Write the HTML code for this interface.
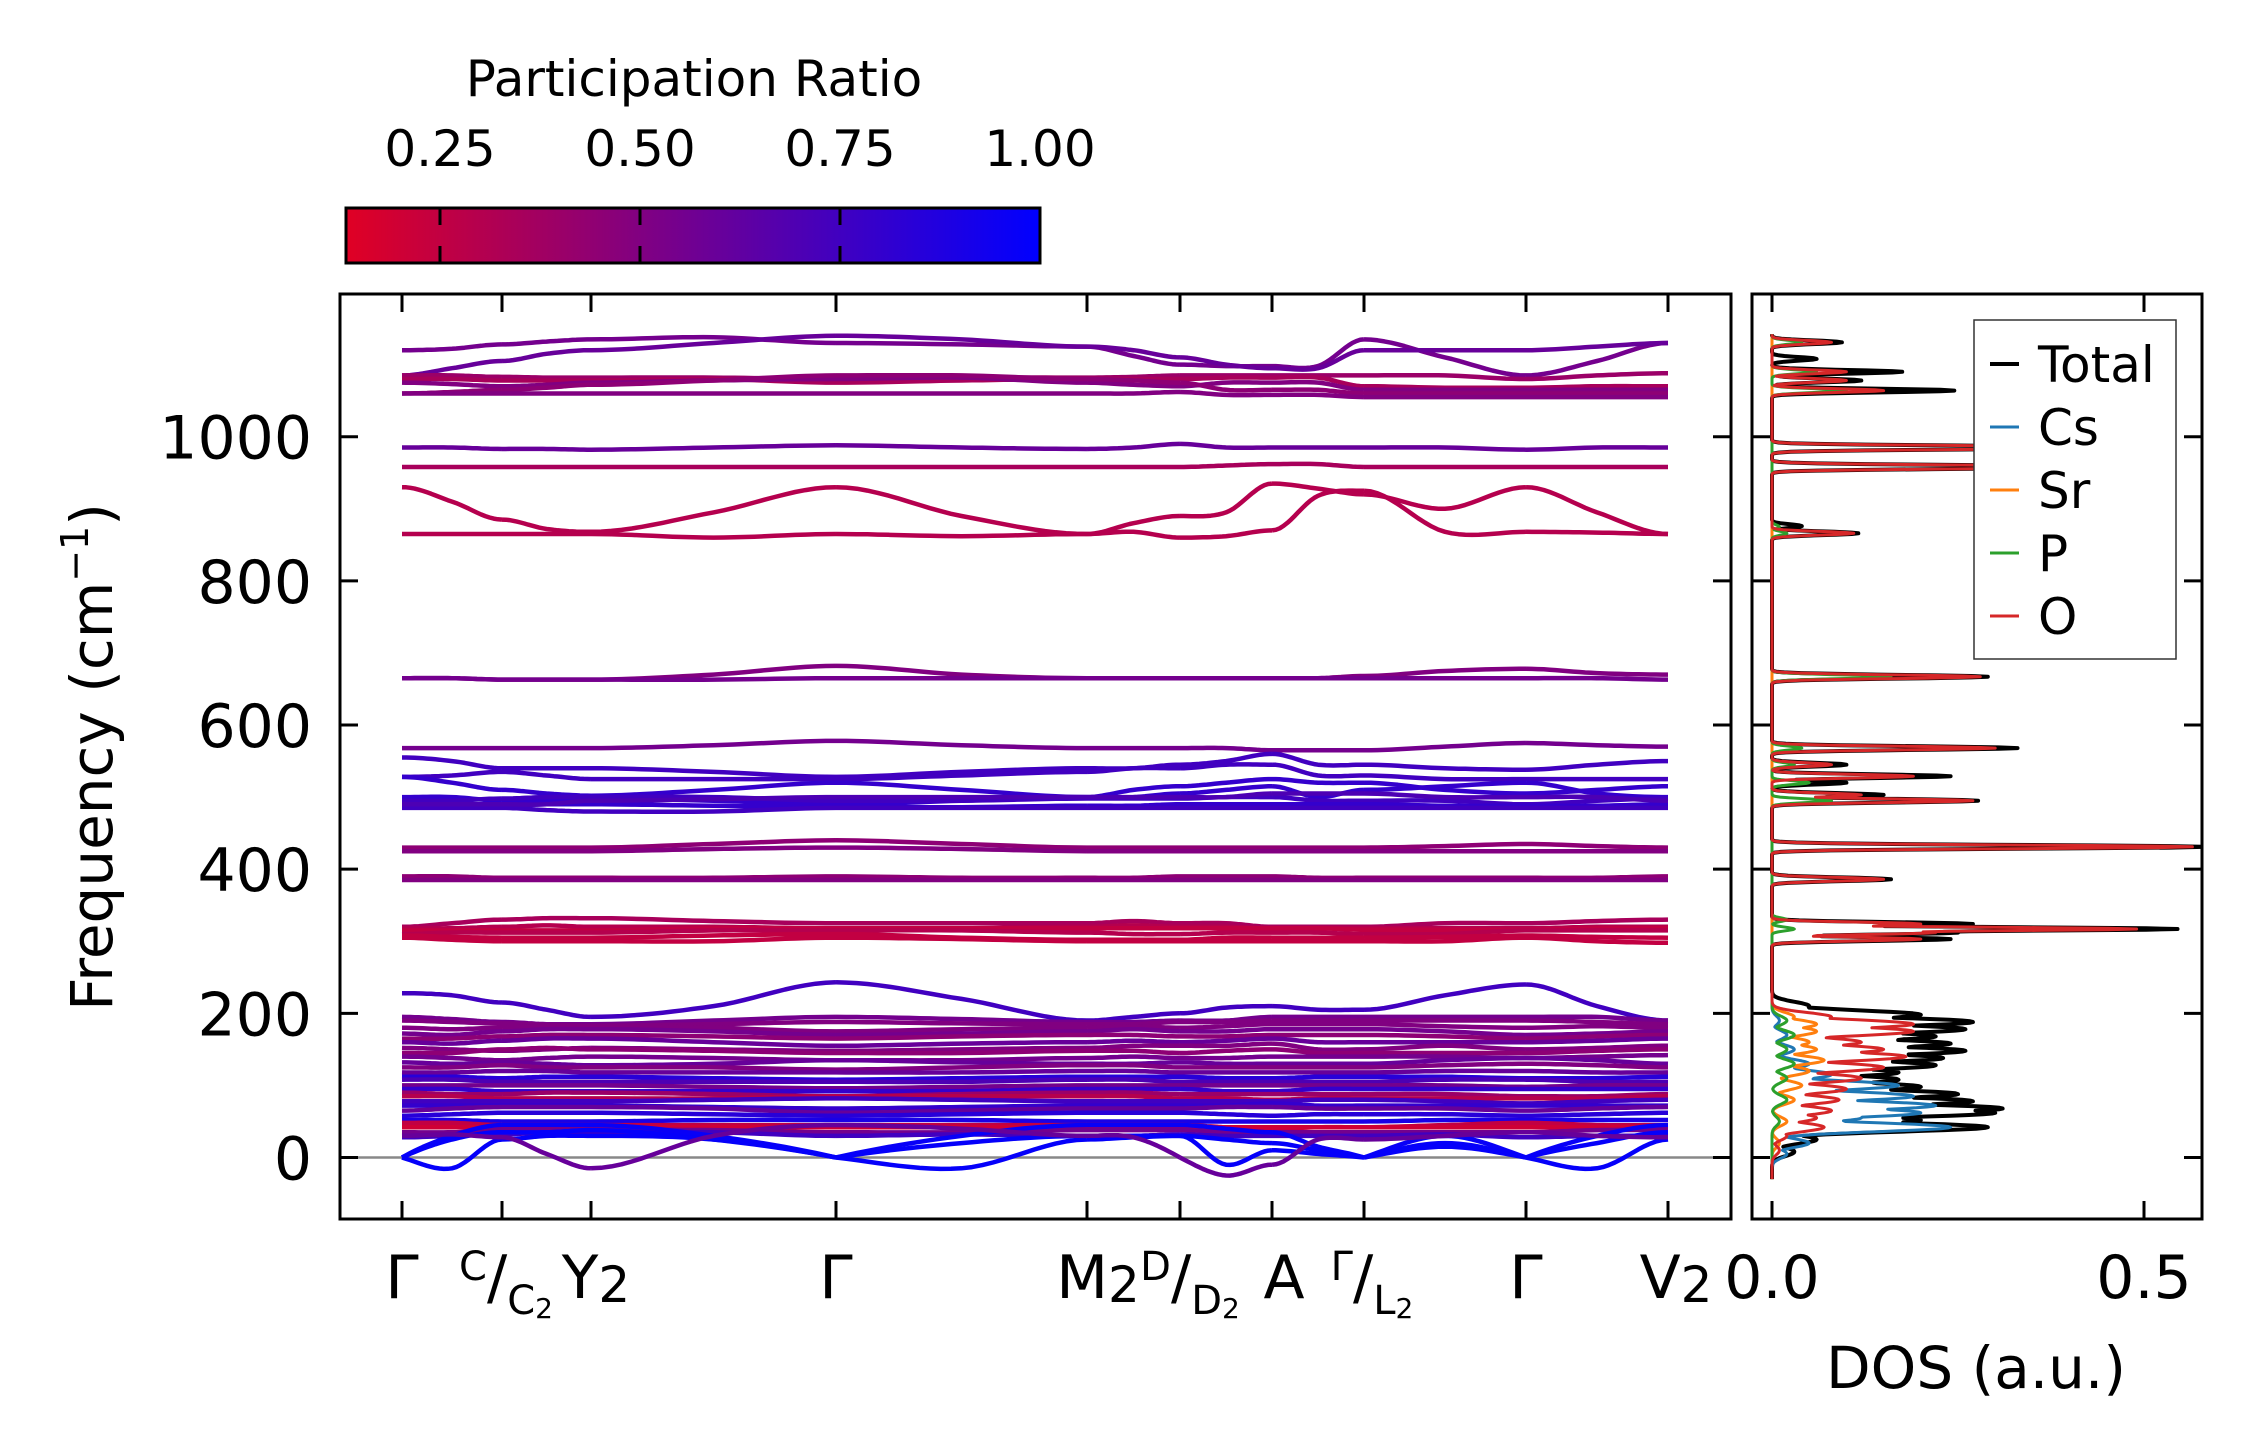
<!DOCTYPE html>
<html><head><meta charset="utf-8"><style>
html,body{margin:0;padding:0;background:#fff;}
svg{display:block;font-family:"DejaVu Sans","Liberation Sans",sans-serif;}
</style></head><body>
<svg id="fig" width="2259" height="1455" viewBox="0 0 2259 1455" xmlns="http://www.w3.org/2000/svg">
<defs>
<linearGradient id="cmap" x1="0" x2="1" y1="0" y2="0">
<stop offset="0" stop-color="rgb(224,0,36)"/>
<stop offset="0.5" stop-color="rgb(112,0,146)"/>
<stop offset="1" stop-color="rgb(0,0,255)"/>
</linearGradient>
<clipPath id="mainClip"><rect x="340" y="294" width="1391" height="925"/></clipPath>
<clipPath id="dosClip"><rect x="1752" y="294" width="450" height="925"/></clipPath>
</defs>
<g id="colorbar">
<text x="694" y="96" font-size="50" text-anchor="middle">Participation Ratio</text>
<rect x="346" y="208" width="694" height="55" fill="url(#cmap)" stroke="#000" stroke-width="3"/>
<g id="cbTicks"></g>
</g>
<g id="main">
<line x1="340" x2="1731" y1="1157.5" y2="1157.5" stroke="#888" stroke-width="2.5"/>
<g id="bands" clip-path="url(#mainClip)"></g>
<rect x="340" y="294" width="1391" height="925" fill="none" stroke="#000" stroke-width="3"/>
<g id="mainTicks"></g>
<text transform="translate(112,757) rotate(-90)" font-size="58" text-anchor="middle">Frequency (cm<tspan font-size="38" dy="-24">−1</tspan><tspan dy="24">)</tspan></text>
<g font-size="60">
<text x="402" y="1298" text-anchor="middle">Γ</text>
<text x="506" y="1298" text-anchor="middle"><tspan font-size="40" dy="-18">C</tspan><tspan dy="18">/</tspan><tspan font-size="40" dy="16">C</tspan><tspan font-size="28" dy="4">2</tspan></text>
<text x="596" y="1298" text-anchor="middle">Y<tspan font-size="50" dy="4">2</tspan></text>
<text x="836" y="1298" text-anchor="middle">Γ</text>
<text x="1098" y="1298" text-anchor="middle">M<tspan font-size="50" dy="4">2</tspan></text>
<text x="1190" y="1298" text-anchor="middle"><tspan font-size="40" dy="-18">D</tspan><tspan dy="18">/</tspan><tspan font-size="40" dy="16">D</tspan><tspan font-size="28" dy="4">2</tspan></text>
<text x="1284" y="1298" text-anchor="middle">A</text>
<text x="1372" y="1298" text-anchor="middle"><tspan font-size="40" dy="-18">Γ</tspan><tspan dy="18">/</tspan><tspan font-size="40" dy="16">L</tspan><tspan font-size="28" dy="4">2</tspan></text>
<text x="1526" y="1298" text-anchor="middle">Γ</text>
<text x="1676" y="1298" text-anchor="middle">V<tspan font-size="50" dy="4">2</tspan></text>
</g>
</g>
<g id="dos">
<g id="dosLines" clip-path="url(#dosClip)"></g>
<rect x="1752" y="294" width="450" height="925" fill="none" stroke="#000" stroke-width="3"/>
<g id="dosTicks"></g>
<text x="1976" y="1388" font-size="58" text-anchor="middle">DOS (a.u.)</text>
<g>
<rect x="1974" y="320" width="202" height="339" fill="#fff" stroke="#333" stroke-width="1.5"/>
<g id="legendEntries" font-size="50"></g>
</g>
</g>
</svg>
<script>
const kLabels = ["Γ","C|C2","Y2","Γ","M2","D|D2","A","Γ|L2","Γ","V2"];
const kTicks = [0,100,189,434,685,778,870,962,1124,1266];
const bandFreqs = [
[1120,1122,1128,1132,1135,1138,1130,1128,1125,1112,1100,1098,1098,1098,1135,1110,1085,1105,1130],
[1085,1095,1105,1115,1120,1130,1140,1135,1125,1120,1110,1100,1095,1095,1120,1120,1120,1125,1130],
[1085,1085,1083,1082,1082,1082,1080,1082,1082,1083,1085,1085,1085,1085,1085,1085,1080,1085,1088],
[1080,1080,1078,1078,1078,1080,1075,1078,1080,1080,1080,1082,1082,1082,1070,1068,1068,1070,1070],
[1075,1073,1070,1072,1075,1078,1080,1082,1075,1072,1070,1075,1075,1075,1065,1065,1065,1065,1065],
[1060,1062,1065,1068,1072,1078,1085,1085,1080,1078,1075,1065,1065,1065,1060,1060,1060,1060,1060],
[1060,1060,1060,1060,1060,1060,1060,1060,1060,1060,1062,1058,1058,1058,1055,1055,1055,1055,1055],
[985,985,983,983,982,985,988,985,983,985,990,985,985,985,985,985,982,985,985],
[958,958,958,958,958,958,958,958,958,958,958,960,962,962,958,958,958,958,958],
[930,910,885,872,868,895,930,890,865,880,890,895,935,928,920,900,930,895,865],
[865,865,865,865,865,860,865,862,865,868,860,862,870,918,925,868,868,867,865],
[665,665,663,663,663,670,682,670,665,665,665,665,665,665,668,675,678,672,670],
[665,665,663,663,663,663,665,665,665,665,665,665,665,665,665,665,665,665,663],
[568,568,568,568,568,572,578,572,568,568,568,568,565,565,565,570,575,572,570],
[555,550,540,540,540,535,528,535,540,540,545,550,560,545,545,540,538,545,550],
[528,530,535,530,525,525,525,530,535,540,540,545,545,530,530,525,525,525,525],
[528,520,510,505,502,510,520,510,500,510,515,520,525,520,520,510,505,510,515],
[500,500,495,495,498,495,490,495,500,500,505,510,515,500,510,515,520,505,500],
[495,495,498,500,500,500,495,495,498,498,498,500,500,495,495,495,490,495,498],
[488,488,488,490,490,488,486,486,488,488,490,490,490,490,490,488,488,488,490],
[485,485,485,482,480,480,485,485,485,485,485,485,485,485,485,485,485,485,485],
[490,490,490,490,495,497,500,500,500,500,500,500,505,505,505,500,500,500,495],
[430,430,430,430,430,435,440,435,430,430,430,430,430,430,430,432,435,432,430],
[425,425,425,425,425,428,430,428,425,425,425,425,425,425,425,425,425,425,425],
[390,390,388,388,388,388,390,388,388,388,390,390,390,388,388,388,388,388,390],
[385,385,385,385,385,385,385,385,385,385,385,385,385,385,385,385,385,385,385],
[320,325,330,332,332,328,325,325,325,328,325,325,320,320,320,325,325,328,330],
[318,318,320,322,320,320,318,318,320,322,320,320,318,318,318,318,318,320,320],
[315,315,315,315,315,318,318,318,318,318,318,318,318,318,316,316,316,318,318],
[310,312,312,312,312,315,315,315,312,310,310,312,312,312,310,310,315,315,315],
[308,306,305,305,305,308,310,305,302,302,302,305,305,305,305,306,308,306,305],
[305,302,300,300,300,300,305,303,300,300,300,300,300,300,300,300,305,300,298],
[228,225,215,205,195,210,243,220,190,195,200,208,210,205,205,225,240,210,190],
[195,192,188,185,185,190,195,192,188,188,190,190,195,195,195,195,195,195,190],
[190,188,186,184,183,185,188,186,185,185,188,188,190,190,190,190,190,188,185],
[180,178,180,182,182,180,175,178,180,182,180,182,185,185,185,182,180,182,180],
[172,170,175,178,178,175,170,172,175,178,175,175,178,178,178,175,170,172,175],
[165,165,168,170,170,168,165,168,170,170,168,168,170,170,170,168,165,168,170],
[160,158,162,165,165,160,155,158,160,162,160,162,165,160,160,160,160,162,165],
[152,150,148,150,152,150,148,150,152,155,155,155,158,150,150,155,150,152,155],
[145,145,150,152,150,148,145,145,148,148,145,148,150,145,145,145,145,148,150],
[140,138,135,138,140,138,135,135,138,140,138,138,140,140,140,140,138,140,142],
[132,130,132,130,128,130,135,132,130,130,132,130,130,130,130,135,138,135,130],
[125,125,128,125,125,125,122,125,128,128,125,125,125,125,125,128,130,128,125],
[118,118,120,120,118,118,118,118,120,120,118,118,118,118,118,120,120,118,118],
[112,112,110,112,112,110,108,110,112,112,112,110,110,112,112,112,110,110,112],
[108,108,105,105,105,105,105,105,108,108,105,105,105,105,105,108,108,105,105],
[100,100,100,100,100,98,96,98,100,100,100,100,100,100,100,100,98,100,100],
[95,95,92,92,92,92,92,92,95,95,95,92,92,95,95,95,95,95,95],
[90,88,88,90,90,88,85,88,90,90,88,88,88,88,88,88,85,85,88],
[85,85,82,82,82,82,85,85,85,85,82,82,80,82,82,82,82,82,85],
[78,78,78,78,78,80,82,80,78,78,78,78,78,80,80,78,75,78,80],
[72,72,72,72,72,70,68,70,72,72,72,72,75,72,72,72,72,72,72],
[65,68,70,70,70,68,62,65,68,68,68,70,70,68,68,68,65,68,70],
[58,60,62,62,62,60,58,60,62,62,62,60,58,60,60,60,58,60,62],
[52,52,50,50,50,52,52,52,50,50,50,50,50,50,50,52,52,52,52],
[48,48,45,45,45,45,45,45,45,45,45,42,40,42,42,45,48,45,45],
[42,42,42,42,42,42,42,42,42,42,42,42,42,42,42,42,42,42,42],
[35,35,38,38,38,38,35,35,38,38,38,35,35,35,35,35,35,38,38],
[28,30,32,35,35,35,30,32,30,30,32,30,30,30,30,32,28,30,30],
[0,30,45,45,45,30,0,30,45,45,45,40,35,15,0,30,0,30,45],
[0,25,35,35,38,25,0,20,30,30,30,25,20,10,0,20,0,20,35],
[0,-15,25,30,30,25,0,-15,25,28,30,-10,10,5,0,15,0,-15,25],
[30,32,28,5,-15,30,45,40,30,28,0,-25,-10,25,25,30,35,30,28]
];
const bandPR = [0.55,0.6,0.4,0.35,0.5,0.45,0.5,0.6,0.35,0.3,0.3,0.5,0.55,0.55,0.75,0.75,0.8,0.8,0.75,0.8,0.75,0.7,0.45,0.5,0.45,0.5,0.35,0.3,0.25,0.3,0.25,0.25,0.75,0.55,0.5,0.5,0.55,0.45,0.6,0.5,0.45,0.55,0.6,0.5,0.6,0.85,0.7,0.55,0.8,0.4,0.3,0.75,0.8,0.6,0.85,0.9,0.25,0.2,0.55,0.75,0.97,0.98,0.98,0.6];
const cbTickValues = [0.25,0.5,0.75,1.0];
const cbTickLabels = ["0.25","0.50","0.75","1.00"];
const yTickValues = [0,200,400,600,800,1000];
const yTickLabels = ["0","200","400","600","800","1000"];

const dosSpecies = ["Total","Cs","Sr","P","O"];
const dosColors = ["#000000","#1f77b4","#ff7f0e","#2ca02c","#d62728"];
const totalCenters = [8,25,42,52,62,68,78,88,98,108,118,128,138,148,158,168,178,188,198,210,303,312,317,324,386,431,495,503,520,529,545,568,667,866,876,958,985,1064,1078,1090,1108,1131];
const totalHeights = [0.03,0.06,0.29,0.2,0.3,0.31,0.27,0.25,0.2,0.17,0.17,0.22,0.23,0.26,0.24,0.22,0.26,0.27,0.2,0.05,0.24,0.25,0.545,0.27,0.16,0.58,0.277,0.15,0.1,0.24,0.1,0.33,0.29,0.116,0.04,0.45,0.45,0.245,0.12,0.175,0.06,0.094];
const csCenters = [5,20,42,55,62,72,85,100,115,130,150,170,190];
const csHeights = [0.02,0.05,0.24,0.12,0.2,0.22,0.19,0.17,0.08,0.05,0.03,0.02,0.01];
const srCenters = [20,50,80,100,120,135,150,160,175,185,195];
const srHeights = [0.01,0.02,0.03,0.04,0.05,0.07,0.06,0.05,0.06,0.06,0.03];
const pCenters = [50,80,110,130,150,170,190,317,330,495,520,545,568,667,866,875,1064,1090,1131];
const pHeights = [0.01,0.02,0.02,0.03,0.02,0.03,0.02,0.03,0.02,0.08,0.05,0.03,0.04,0.16,0.02,0.01,0.1,0.06,0.04];
const oCenters = [10,30,42,55,65,80,95,110,125,140,150,160,175,185,195,303,312,317,324,386,431,495,503,529,545,568,667,866,958,985,1064,1078,1090,1131];
const oHeights = [0.01,0.02,0.07,0.06,0.08,0.09,0.1,0.12,0.15,0.18,0.15,0.12,0.19,0.19,0.08,0.2,0.22,0.49,0.2,0.15,0.565,0.27,0.12,0.19,0.08,0.3,0.28,0.11,0.45,0.45,0.15,0.1,0.1,0.08];
const dosTickValues = [0.0,0.5];
const dosTickLabels = ["0.0","0.5"];

const NS = "http://www.w3.org/2000/svg";
function mk(tag, attrs, parent){const e=document.createElementNS(NS,tag);for(const k in attrs)e.setAttribute(k,attrs[k]);parent.appendChild(e);return e;}
const yScale = f => 1157.5 - f*0.7208;
const kScale = k => 402 + k;
const prScale = v => 346 + (v-0.1325)/(1-0.1325)*694;
const dosX = v => 1772 + v*744;
function prColor(v){let t=(v-0.1325)/(1-0.1325);t=Math.max(0,Math.min(1,t));
  let r,b; if(t<0.5){const u=t/0.5;r=224+(112-224)*u;b=36+(146-36)*u;}else{const u=(t-0.5)/0.5;r=112*(1-u);b=146+(255-146)*u;}
  return `rgb(${Math.round(r)},0,${Math.round(b)})`;}

const cbT=document.getElementById('cbTicks');
cbTickValues.forEach((v,i)=>{const x=prScale(v);
  const t1=mk('line',{x1:x,x2:x,y1:209,y2:225,stroke:'#000','stroke-width':3},cbT);
  
  
  const t2=mk('line',{x1:x,x2:x,y1:246,y2:262,stroke:'#000','stroke-width':3},cbT);
  
  
  const tx=mk('text',{x:x,y:166,'font-size':50,'text-anchor':'middle'},cbT);tx.textContent=cbTickLabels[i];
  
  
});

const mt=document.getElementById('mainTicks');
yTickValues.forEach((v,i)=>{const y=yScale(v);
  const a=mk('line',{x1:340,x2:358,y1:y,y2:y,stroke:'#000','stroke-width':3},mt);
  
  
  const b=mk('line',{x1:1713,x2:1731,y1:y,y2:y,stroke:'#000','stroke-width':3},mt);
  
  
  const tx=mk('text',{x:312,y:y+22,'font-size':60,'text-anchor':'end'},mt);tx.textContent=yTickLabels[i];
  
  
  const c=mk('line',{x1:1752,x2:1770,y1:y,y2:y,stroke:'#000','stroke-width':3},mt);
  
  
  const d=mk('line',{x1:2184,x2:2202,y1:y,y2:y,stroke:'#000','stroke-width':3},mt);
  
  
});
kTicks.forEach((k,i)=>{const x=kScale(k);
  const a=mk('line',{x1:x,x2:x,y1:294,y2:312,stroke:'#000','stroke-width':3},mt);
  
  
  const b=mk('line',{x1:x,x2:x,y1:1201,y2:1219,stroke:'#000','stroke-width':3},mt);
  
  
});

const bg=document.getElementById('bands');
function hermite(p0,p1,m0,m1,dx,t){const t2=t*t,t3=t2*t;return (2*t3-3*t2+1)*p0+(t3-2*t2+t)*dx*m0+(-2*t3+3*t2)*p1+(t3-t2)*dx*m1;}
bandFreqs.forEach((arr,bi)=>{
  const col=prColor(bandPR[bi]);
  for(let s=0;s<kTicks.length-1;s++){
    const k0=kTicks[s],k2=kTicks[s+1],k1=(k0+k2)/2,h=(k2-k0)/2;
    const f0=arr[2*s],f1=arr[2*s+1],f2=arr[2*s+2];
    const mMid=(f2-f0)/(2*h);
    const ac0=(f0===0)?(f1-f0)/h*1.3:0, ac2=(f2===0)?(f2-f1)/h*1.3:0;
    let d='';
    for(let j=0;j<=24;j++){const t=j/24;let k,f;
      if(t<=0.5){const u=t*2;k=k0+u*h;f=hermite(f0,f1,ac0,mMid,h,u);}
      else{const u=(t-0.5)*2;k=k1+u*h;f=hermite(f1,f2,mMid,ac2,h,u);}
      d+=(j?'L':'M')+kScale(k).toFixed(1)+','+yScale(f).toFixed(1);}
    const p=mk('path',{d:d,fill:'none',stroke:col,'stroke-width':4.5,'stroke-linejoin':'round'},bg);
    
    
  }
});

const dl=document.getElementById('dosLines');
const speciesPeaks=[[totalCenters,totalHeights],[csCenters,csHeights],[srCenters,srHeights],[pCenters,pHeights],[oCenters,oHeights]];
[0,1,2,3,4].forEach(si=>{
  const cs=speciesPeaks[si][0],hs=speciesPeaks[si][1];
  let d='';
  for(let f=-30;f<=1142;f+=1){
    let v=0;
    for(let i=0;i<cs.length;i++){const sg=cs[i]<250?6:2.5;const g=hs[i]*Math.exp(-(f-cs[i])*(f-cs[i])/(2*sg*sg));if(g>v)v=g;}
    d+=(f===-30?'M':'L')+dosX(v).toFixed(1)+','+yScale(f).toFixed(1);
  }
  const p=mk('path',{d:d,fill:'none',stroke:dosColors[si],'stroke-width':si===0?4:3,'stroke-linejoin':'round'},dl);
  
  
});
const dt=document.getElementById('dosTicks');
dosTickValues.forEach((v,i)=>{const x=dosX(v);
  const a=mk('line',{x1:x,x2:x,y1:294,y2:312,stroke:'#000','stroke-width':3},dt);
  
  
  const b=mk('line',{x1:x,x2:x,y1:1201,y2:1219,stroke:'#000','stroke-width':3},dt);
  
  
  const tx=mk('text',{x:x,y:1298,'font-size':60,'text-anchor':'middle'},dt);tx.textContent=dosTickLabels[i];
  
  
});
const le=document.getElementById('legendEntries');
dosSpecies.forEach((n,i)=>{const y=364+i*63;
  const l=mk('line',{x1:1990,x2:2019,y1:y,y2:y,stroke:dosColors[i],'stroke-width':i===0?4:3},le);
  
  
  const t=mk('text',{x:2038,y:y+18},le);t.textContent=n;
  
  
});
</script>
</body></html>
